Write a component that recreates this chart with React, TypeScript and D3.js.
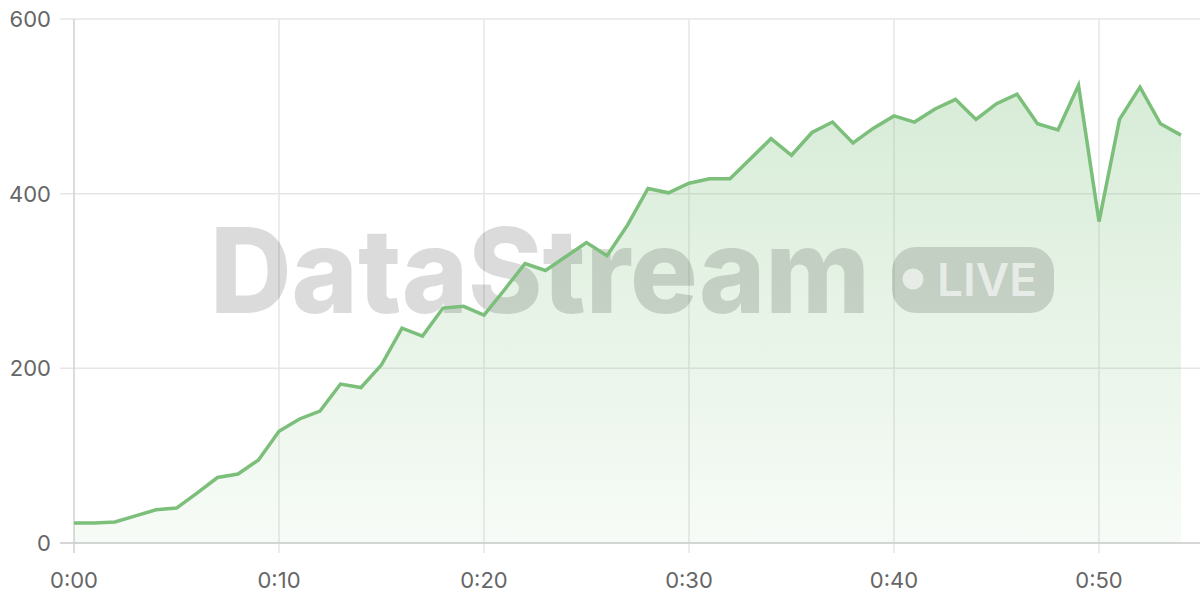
import React from "react";
import * as d3 from "d3";

const minutes: number[] = Array.from({ length: 55 }, (_, i) => i);
const values: number[] = [
  23, 23, 24, 31, 38, 40, 57, 75, 79, 95,
  128, 142, 151, 182, 178, 204, 246, 237, 269, 271,
  261, 290, 320, 312, 328, 344, 329, 364, 406, 401,
  412, 417, 417, 440, 463, 444, 470, 482, 458, 475,
  489, 482, 497, 508, 485, 503, 514, 480, 473, 524,
  368, 485, 522, 480, 467,
];
const yTicks: number[] = [0, 200, 400, 600];
const xTicks: number[] = [0, 10, 20, 30, 40, 50];
const xTickLabels: string[] = ["0:00", "0:10", "0:20", "0:30", "0:40", "0:50"];

const W = 1200;
const H = 600;
const left = 74;
const top = 19;
const bottom = 543;
const right = 1200;

export default function App() {
  const x = d3.scaleLinear().domain([0, 10]).range([left, left + 205]);
  const y = d3.scaleLinear().domain([0, 600]).range([bottom, top]);
  const data = minutes.map((m, i) => ({ m, v: values[i] }));
  const line = d3
    .line<{ m: number; v: number }>()
    .x((d) => x(d.m))
    .y((d) => y(d.v));
  const area = d3
    .area<{ m: number; v: number }>()
    .x((d) => x(d.m))
    .y0(y(0))
    .y1((d) => y(d.v));
  const font = "Inter, 'Noto Sans', sans-serif";
  return (
    <svg
      width={W}
      height={H}
      style={{ position: "absolute", left: 0, top: 0, background: "#fff" }}
    >
      <defs>
        <linearGradient id="g" gradientUnits="userSpaceOnUse" x1="0" y1={top} x2="0" y2={bottom}>
          <stop offset="0%" stopColor="#7bbf7b" stopOpacity={0.34} />
          <stop offset="100%" stopColor="#7bbf7b" stopOpacity={0.06} />
        </linearGradient>
      </defs>
      {yTicks.map((t) => (
        <line key={"yg" + t} x1={left - 14} x2={right} y1={y(t)} y2={y(t)} stroke="#e6e6e6" strokeWidth={1.5} />
      ))}
      {xTicks.map((t) => (
        <line key={"xg" + t} x1={x(t)} x2={x(t)} y1={top} y2={bottom + 10} stroke={t === 0 ? "#d0d0d0" : "#e6e6e6"} strokeWidth={1.5} />
      ))}
      <line x1={left - 14} x2={right} y1={bottom} y2={bottom} stroke="#cfcfcf" strokeWidth={1.5} />
      <path d={area(data) || ""} fill="url(#g)" />
      <g>
        <text
          x={210}
          y={313}
          fontFamily="Inter, 'Noto Sans', sans-serif"
          fontWeight={800}
          fontSize={118}
          textLength={660}
          lengthAdjust="spacingAndGlyphs"
          fill="#000"
          fillOpacity={0.14}
        >
          DataStream
        </text>
        <rect x={892} y={247} width={162} height={66} rx={24} fill="#000" fillOpacity={0.14} />
        <circle cx={913} cy={279} r={10.5} fill="#fff" fillOpacity={0.6} />
        <text
          x={937}
          y={296}
          fontFamily="Inter, 'Noto Sans', sans-serif"
          fontWeight={600}
          fontSize={45}
          textLength={100}
          lengthAdjust="spacingAndGlyphs"
          fill="#fff"
          fillOpacity={0.6}
        >
          LIVE
        </text>
      </g>
      <path d={line(data) || ""} fill="none" stroke="#7bbf7b" strokeWidth={3.5} strokeLinejoin="miter" />
      {yTicks.map((t) => (
        <text key={"yl" + t} x={51} y={y(t)} dy="0.36em" textAnchor="end" fontFamily={font} fontSize={22} fill="#666">
          {t}
        </text>
      ))}
      {xTicks.map((t, i) => (
        <text key={"xl" + t} x={x(t)} y={588} textAnchor="middle" fontFamily={font} fontSize={22} fill="#666">
          {xTickLabels[i]}
        </text>
      ))}
    </svg>
  );
}
